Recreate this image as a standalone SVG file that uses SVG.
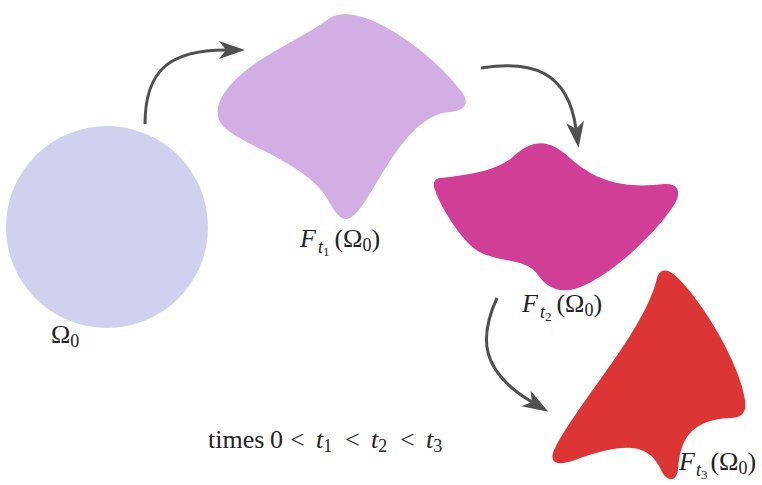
<svg xmlns="http://www.w3.org/2000/svg" width="762" height="485" viewBox="0 0 762 485">
<defs>
<style>
.conn{fill:none;stroke:#505050;stroke-width:3}
.lbl{font-family:"Liberation Serif","DejaVu Serif",serif;font-size:26px;fill:#222}
.it{font-style:italic}
.sub{font-size:18px}
.ss{font-size:13px}
</style>
<marker id="ah" viewBox="-8 -10 28 20" markerWidth="28" markerHeight="20" refX="0" refY="0" orient="auto" markerUnits="userSpaceOnUse">
<path d="M19,0 L-7,-9 L0,0 L-7,9 Z" fill="#505050"/>
</marker>
</defs>
<rect width="762" height="485" fill="#fff"/>
<g id="omega0">
<circle cx="107" cy="227" r="101" fill="#cfd1ee"/>
<text class="lbl" x="51" y="343">Ω<tspan class="sub" dy="4">0</tspan></text>
</g>
<g id="ft1">
<path d="M330,18 C360,0 430,50 462,92 C470,104 465,110 450,112 C400,115 370,210 350,218 C340,222 335,212 325,195 C300,160 240,145 222,125 C212,112 220,95 235,80 C260,55 300,40 330,18 Z" fill="#d3aee4"/>
<text class="lbl" x="300" y="247"><tspan class="it">F</tspan><tspan class="sub it" dx="2" dy="6">t</tspan><tspan class="ss" dy="3">1</tspan><tspan dx="5" dy="-9">(Ω</tspan><tspan class="sub" dy="4">0</tspan><tspan dy="-4">)</tspan></text>
</g>
<g id="ft2">
<path d="M440,178 C470,175 500,170 515,155 C535,138 550,140 570,158 C600,185 630,188 665,184 C680,183 682,195 672,208 C650,240 600,285 570,290 C555,292 545,285 538,275 C525,255 490,265 470,245 C455,230 440,205 435,190 C432,182 435,179 440,178 Z" fill="#d03e98"/>
<text class="lbl" x="522" y="312"><tspan class="it">F</tspan><tspan class="sub it" dx="2" dy="6">t</tspan><tspan class="ss" dy="3">2</tspan><tspan dx="5" dy="-9">(Ω</tspan><tspan class="sub" dy="4">0</tspan><tspan dy="-4">)</tspan></text>
</g>
<g id="ft3">
<path d="M657,278 C660,268 668,268 678,278 C705,305 740,365 745,400 C747,412 742,418 730,418 C690,420 680,440 678,470 C676,482 668,482 662,472 C650,445 630,440 575,460 C555,467 548,462 555,448 C580,400 645,330 657,278 Z" fill="#dc3535"/>
<text class="lbl" x="679" y="470"><tspan class="it">F</tspan><tspan class="sub it" dx="1" dy="6">t</tspan><tspan class="ss" dy="3">3</tspan><tspan dx="3" dy="-9">(Ω</tspan><tspan class="sub" dy="4">0</tspan><tspan dy="-4">)</tspan></text>
</g>
<g id="caption">
<text class="lbl" y="448"><tspan x="208">times</tspan><tspan x="270">0</tspan><tspan x="290">&lt;</tspan><tspan class="it" x="316">t</tspan><tspan class="sub" dy="4">1</tspan><tspan x="345" dy="-4">&lt;</tspan><tspan class="it" x="371">t</tspan><tspan class="sub" dy="4">2</tspan><tspan x="400" dy="-4">&lt;</tspan><tspan class="it" x="426">t</tspan><tspan class="sub" dy="4">3</tspan></text>
</g>
<g id="connectors">
<path class="conn" d="M145,124 C145,70 170,50 226,50" marker-end="url(#ah)"/>
<path class="conn" d="M481,68 C530,60 568,70 576,129" marker-end="url(#ah)"/>
<path class="conn" d="M497,298 C480,335 478,370 532,402" marker-end="url(#ah)"/>
</g>
</svg>
